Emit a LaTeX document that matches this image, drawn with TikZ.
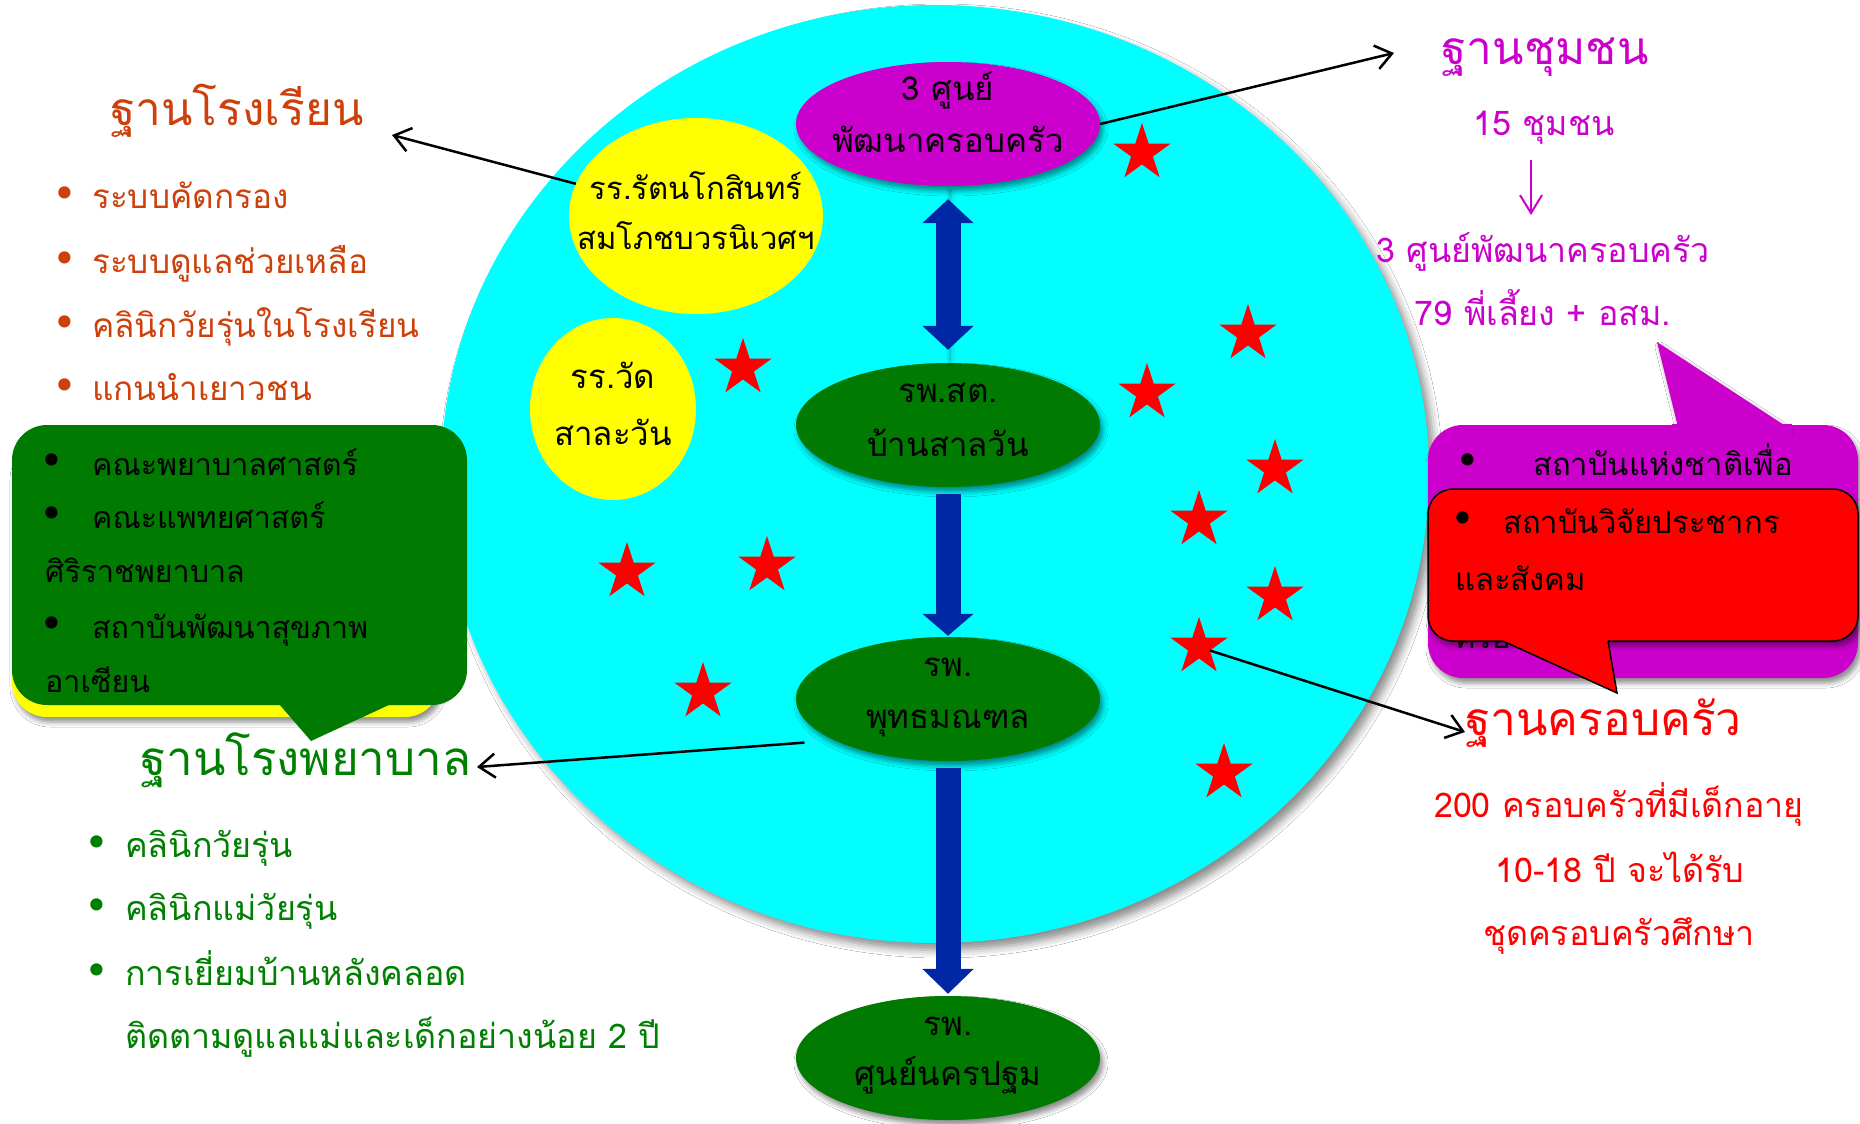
\documentclass[tikz,border=0pt]{standalone}
\usepackage{fontspec}
\setmainfont[Script=Thai]{Loma}
\newfontfamily\thaifont[Script=Thai]{Loma}
\newfontfamily\dejavu{DejaVu Sans}
\usetikzlibrary{arrows.meta,shapes.geometric,shadows.blur}
\definecolor{cyanbg}{RGB}{0,255,255}
\definecolor{purp}{RGB}{204,0,204}
\definecolor{grn}{RGB}{0,122,0}
\definecolor{yel}{RGB}{255,255,0}
\definecolor{navy}{RGB}{0,40,165}
\definecolor{schoolc}{RGB}{205,64,10}
\definecolor{hospc}{RGB}{0,128,0}
\newcommand\fsTitle{\thaifont\fontsize{46}{50}\selectfont}
\newcommand\fsTitleH{\thaifont\fontsize{47.5}{50}\selectfont}
\newcommand\fsList{\thaifont\fontsize{34}{40}\selectfont}
\newcommand\fsListS{\thaifont\fontsize{33.3}{40}\selectfont}
\newcommand\fsEll{\thaifont\fontsize{33}{40}\selectfont}
\newcommand\fsBox{\thaifont\fontsize{31}{40}\selectfont}
\newcommand\fsBoxG{\thaifont\fontsize{30.4}{40}\selectfont}
\newcommand\bulletfont{\dejavu\fontsize{42}{44}\selectfont}
\begin{document}
\begin{tikzpicture}[x=1pt,y=-1pt,
  ell/.style={ellipse, inner sep=0, minimum width=304, minimum height=124},
  shad/.style={blur shadow={shadow xshift=3pt, shadow yshift=-5pt, shadow blur radius=5pt, shadow opacity=45}},
  txt/.style={inner sep=0, anchor=base},
  txtw/.style={inner sep=0, anchor=base west},
  bul/.style={inner sep=0, anchor=base, font=\bulletfont},
  blackarrow/.style={draw=black, line width=2.5pt, -{Straight Barb[length=16pt,width=24pt]}},
  bluearr/.style={draw=navy, line width=25pt},
  redstar/.style={star, star points=5, star point ratio=2.618, fill=red, inner sep=0, minimum size=60}]
\useasboundingbox (0,0) rectangle (1860,1124);
\fill[white] (0,0) rectangle (1860,1124);

% big circle
\node[ellipse, fill=cyanbg, inner sep=0, minimum width=988, minimum height=938,
  blur shadow={shadow xshift=6pt, shadow yshift=-7pt, shadow blur radius=8pt, shadow opacity=45}] (ring) at (935,474) {};

% ellipses
\node[ell, fill=purp, shad] (p) at (948,124) {};
\node[ellipse, inner sep=0, minimum width=254, minimum height=196, fill=yel] (y1) at (696,216) {};
\node[ellipse, inner sep=0, minimum width=166, minimum height=182, fill=yel] (y2) at (613,409) {};
\node[ell, fill=grn, shad] (g1) at (948,425) {};
\node[ell, fill=grn, shad] (g2) at (948,699) {};
\node[ell, fill=grn, shad] (g3) at (948,1058) {};

% ellipse texts
\node[txt, font=\fsEll] (pt1) at (948,100) {3 ศูนย์};
\node[txt, font=\fsEll] (pt2) at (948,152) {พัฒนาครอบครัว};
\node[txt, font=\fsBox] (y1t1) at (696,199) {รร.รัตนโกสินทร์};
\node[txt, font=\fsBox] (y1t2) at (696,249) {สมโภชบวรนิเวศฯ};
\node[txt, font=\fsEll] (y2t1) at (613,388) {รร.วัด};
\node[txt, font=\fsEll] (y2t2) at (613,445) {สาละวัน};
\node[txt, font=\fsEll] (g1t1) at (948,402) {รพ.สต.};
\node[txt, font=\fsEll] (g1t2) at (948,456) {บ้านสาลวัน};
\node[txt, font=\fsEll] (g2t1) at (948,676) {รพ.};
\node[txt, font=\fsEll] (g2t2) at (948,728) {พุทธมณฑล};
\node[txt, font=\fsEll] (g3t1) at (948,1035) {รพ.};
\node[txt, font=\fsEll] (g3t2) at (948,1085) {ศูนย์นครปฐม};

% blue arrows
\draw[bluearr, {Triangle[length=24pt,width=50pt]}-{Triangle[length=24pt,width=50pt]}, shorten <=13pt, shorten >=13pt,
  blur shadow={shadow xshift=2pt, shadow yshift=-3pt, shadow blur radius=4pt, shadow opacity=35}] (p.south) -- (g1.north);
\draw[bluearr, -{Triangle[length=22pt,width=50pt]}, shorten <=7pt, shorten >=1pt] (g1.south) -- (g2.north);
\draw[bluearr, -{Triangle[length=25pt,width=50pt]}, shorten <=7pt, shorten >=2pt] (g2.south) -- (g3.north);

% stars
\node[redstar] (s1) at (1142,153) {};
\node[redstar] (s2) at (743,368) {};
\node[redstar] (s3) at (1248,334) {};
\node[redstar] (s4) at (1147,393) {};
\node[redstar] (s5) at (1275,469) {};
\node[redstar] (s6) at (1199,520) {};
\node[redstar] (s7) at (1275,596) {};
\node[redstar] (s8) at (1199,647) {};
\node[redstar] (s9) at (1224,773) {};
\node[redstar] (s10) at (627,572) {};
\node[redstar] (s11) at (767,566) {};
\node[redstar] (s12) at (703,692) {};

% black connectors
\coordinate (tipC) at (1394,53);
\coordinate (tipS) at (392,135);
\coordinate (tipH) at (477,767);
\coordinate (tipF) at (1465,732);
\draw[blackarrow] (p.east) -- (tipC);
\draw[blackarrow] (y1.165) -- (tipS);
\draw[blackarrow, shorten <=30pt] (g2.200) -- (tipH);
\draw[blackarrow] (s8) -- (tipF);

% school text
\node[txtw, text=schoolc, font=\fsTitle] (tsch) at (110,125) {ฐานโรงเรียน};
\foreach \yy/\tt [count=\i] in {208/ระบบคัดกรอง, 273/ระบบดูแลช่วยเหลือ, 337/คลินิกวัยรุ่นในโรงเรียน, 400/แกนนำเยาวชน}{
  \node[bul, text=schoolc] (sb\i) at (65,\yy) {•};
  \node[txtw, text=schoolc, font=\fsListS] (sl\i) at (92,\yy) {\tt};
}

% yellow + green callout
\fill[yel, rounded corners=35pt, shad] (12,440) rectangle (440,717);
\fill[grn, rounded corners=35pt] (12,425) rectangle (467,705);
\fill[grn] (279,704) -- (311,741) -- (391,704) -- cycle;
\node[bul] (gb1) at (52,475) {•};
\node[txtw, font=\fsBoxG] (gl1) at (92,475) {คณะพยาบาลศาสตร์};
\node[bul] (gb2) at (52,528) {•};
\node[txtw, font=\fsBoxG] (gl2) at (92,528) {คณะแพทยศาสตร์};
\node[txtw, font=\fsBoxG] (gl3) at (45,582) {ศิริราชพยาบาล};
\node[bul] (gb3) at (52,638) {•};
\node[txtw, font=\fsBoxG] (gl4) at (92,638) {สถาบันพัฒนาสุขภาพ};
\node[txtw, font=\fsBoxG] (gl5) at (45,692) {อาเซียน};

% hospital text
\node[txtw, text=hospc, font=\fsTitleH] (thos) at (140,775) {ฐานโรงพยาบาล};
\node[bul, text=hospc] (hb1) at (97,857) {•};
\node[txtw, text=hospc, font=\fsList] (hl1) at (125,857) {คลินิกวัยรุ่น};
\node[bul, text=hospc] (hb2) at (97,920) {•};
\node[txtw, text=hospc, font=\fsList] (hl2) at (125,920) {คลินิกแม่วัยรุ่น};
\node[bul, text=hospc] (hb3) at (97,985) {•};
\node[txtw, text=hospc, font=\fsList] (hl3) at (125,985) {การเยี่ยมบ้านหลังคลอด};
\node[txtw, text=hospc, font=\fsList] (hl4) at (125,1048) {ติดตามดูแลแม่และเด็กอย่างน้อย 2 ปี};

% community text
\node[txt, text=purp, font=\fsTitle] (tcom) at (1545,65) {ฐานชุมชน};
\node[txt, text=purp, font=\fsList] (c1) at (1544,135) {15 ชุมชน};
\node[txt, text=purp, font=\fsList] (c2) at (1543,262) {3 ศูนย์พัฒนาครอบครัว};
\node[txt, text=purp, font=\fsList] (c3) at (1543,325) {79 พี่เลี้ยง + อสม.};
\coordinate (ca1) at (1531,160);
\coordinate (ca2) at (1531,215);
\draw[purp, line width=2pt, -{Straight Barb[length=18pt,width=22pt]}] (ca1) -- (ca2);

% purple callout
\fill[purp, rounded corners=35pt, shad] (1428,425) rectangle (1858,678);
\fill[purp, shad] (1678,427) -- (1657,342) -- (1787,427) -- cycle;
\fill[purp] (1672,424) -- (1792,424) -- (1792,440) -- (1672,440) -- cycle;
\node[bul] (pb1) at (1468,475) {•};
\node[txtw, font=\fsBox] (pl1) at (1533,475) {สถาบันแห่งชาติเพื่อ};
\node[txtw, font=\fsBox] (pl4) at (1455,648) {ครอบครัว};

% red callout
\filldraw[fill=red, draw=black, line width=1.5pt, rounded corners=25pt, shad] (1428,489) rectangle (1858,641);
\fill[red] (1503,641) -- (1617,693) -- (1608,641) -- (1608,638) -- (1503,638) -- cycle;
\draw[black, line width=1.5pt, line join=miter] (1503,641) -- (1617,693) -- (1608,641);
\node[bul] (rb1) at (1463,533) {•};
\node[txtw, font=\fsBox] (rl1) at (1503,533) {สถาบันวิจัยประชากร};
\node[txtw, font=\fsBox] (rl2) at (1455,590) {และสังคม};

% family text
\node[txtw, text=red, font=\fsTitle] (tfam) at (1465,735) {ฐานครอบครัว};
\node[txt, text=red, font=\fsList] (f1) at (1619,817) {200 ครอบครัวที่มีเด็กอายุ};
\node[txt, text=red, font=\fsList] (f2) at (1620,882) {10-18 ปี จะได้รับ};
\node[txt, text=red, font=\fsList] (f3) at (1619,945) {ชุดครอบครัวศึกษา};
\end{tikzpicture}
\end{document}
